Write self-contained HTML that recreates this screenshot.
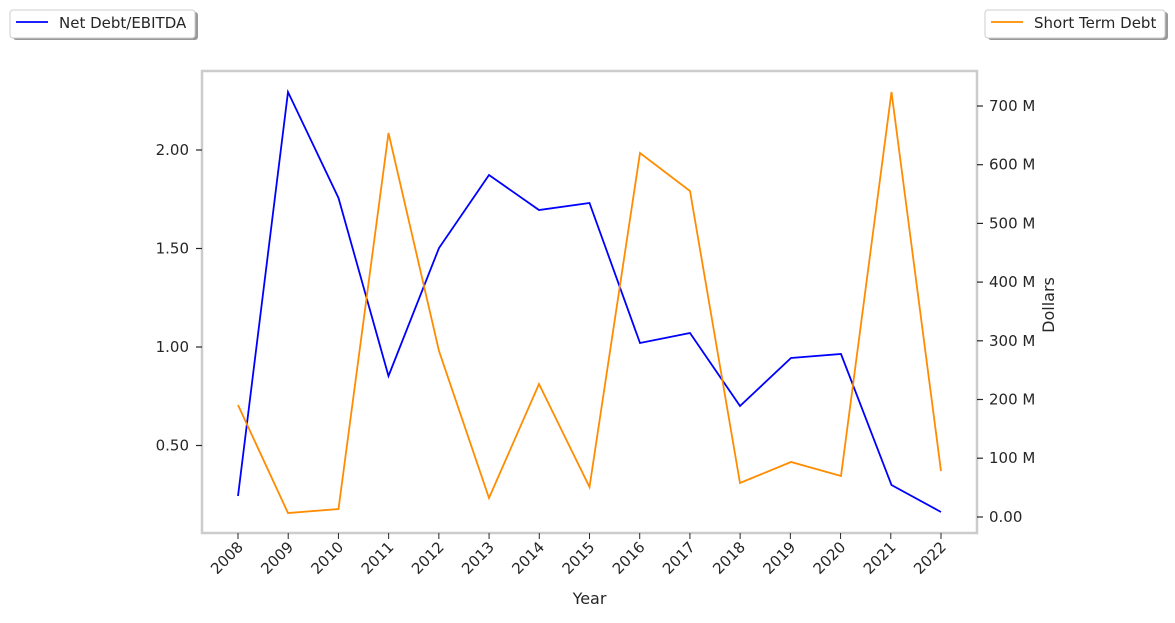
<!DOCTYPE html>
<html><head><meta charset="utf-8"><style>
body{margin:0;background:#fff}
text{font-family:"DejaVu Sans","Liberation Sans",sans-serif;fill:#262626;font-size:15px}
</style></head><body>
<svg width="1175" height="618" xmlns="http://www.w3.org/2000/svg">
<rect width="1175" height="618" fill="#fff"/>
<rect x="202" y="71" width="775" height="462" fill="none" stroke="#cccccc" stroke-width="2.5"/>
<g stroke="#262626" stroke-width="1.2">
<line x1="196" y1="150" x2="202" y2="150"/><line x1="196" y1="248.5" x2="202" y2="248.5"/>
<line x1="196" y1="347" x2="202" y2="347"/><line x1="196" y1="445.5" x2="202" y2="445.5"/>
<line x1="977" y1="106" x2="983" y2="106"/><line x1="977" y1="164.7" x2="983" y2="164.7"/>
<line x1="977" y1="223.4" x2="983" y2="223.4"/><line x1="977" y1="282.1" x2="983" y2="282.1"/>
<line x1="977" y1="340.8" x2="983" y2="340.8"/><line x1="977" y1="399.5" x2="983" y2="399.5"/>
<line x1="977" y1="458.2" x2="983" y2="458.2"/><line x1="977" y1="517" x2="983" y2="517"/>
</g>
<g text-anchor="end">
<text x="189" y="155">2.00</text><text x="189" y="253.5">1.50</text>
<text x="189" y="352">1.00</text><text x="189" y="450.5">0.50</text>
</g>
<g>
<text x="989" y="111">700 M</text><text x="989" y="169.7">600 M</text>
<text x="989" y="228.4">500 M</text><text x="989" y="287.1">400 M</text>
<text x="989" y="345.8">300 M</text><text x="989" y="404.5">200 M</text>
<text x="989" y="463.2">100 M</text><text x="989" y="522">0.00</text>
</g>
<text x="1054" y="305" text-anchor="middle" transform="rotate(-90 1054 305)" style="font-size:16px">Dollars</text>
<text x="589.5" y="604" text-anchor="middle" style="font-size:16px">Year</text>
<g id="xt" text-anchor="end"></g>
<polyline fill="none" stroke="#0000ff" stroke-width="1.8" points="238,496 288,92 338.5,198 388.5,376 439,248 489,175 539,210 589.5,203 640,343 690,333 740,406 791,358 841,354 891.5,485 941,512"/>
<polyline fill="none" stroke="#ff8c00" stroke-width="1.8" points="238,405 288,513 338.5,509 388.5,133 439,351 489,498 539,384 589.5,487 640,153 690,191 740,483 791,462 841,476 891.5,92 941,471"/>
<rect x="13" y="12" width="185" height="28" rx="3" fill="#999"/>
<rect x="10" y="10" width="185" height="28" rx="3" fill="#fff" stroke="#ccc"/>
<line x1="16" y1="22" x2="48" y2="22" stroke="#0000ff" stroke-width="1.8"/>
<text x="59" y="28">Net Debt/EBITDA</text>
<rect x="988" y="12" width="180" height="28" rx="3" fill="#999"/>
<rect x="985" y="10" width="180" height="28" rx="3" fill="#fff" stroke="#ccc"/>
<line x1="991" y1="22" x2="1023" y2="22" stroke="#ff8c00" stroke-width="1.8"/>
<text x="1034" y="28">Short Term Debt</text>
</svg>
<script>
var g=document.getElementById('xt'),ns='http://www.w3.org/2000/svg';
for(var i=0;i<15;i++){var x=238+i*50.214;
var l=document.createElementNS(ns,'line');l.setAttribute('x1',x);l.setAttribute('x2',x);l.setAttribute('y1',533);l.setAttribute('y2',539);l.setAttribute('stroke','#262626');g.appendChild(l);
var t=document.createElementNS(ns,'text');var tx=x+6,ty=548;t.setAttribute('x',tx);t.setAttribute('y',ty);t.setAttribute('transform','rotate(-45 '+tx+' '+ty+')');t.textContent=2008+i;g.appendChild(t);}
</script>
</body></html>
